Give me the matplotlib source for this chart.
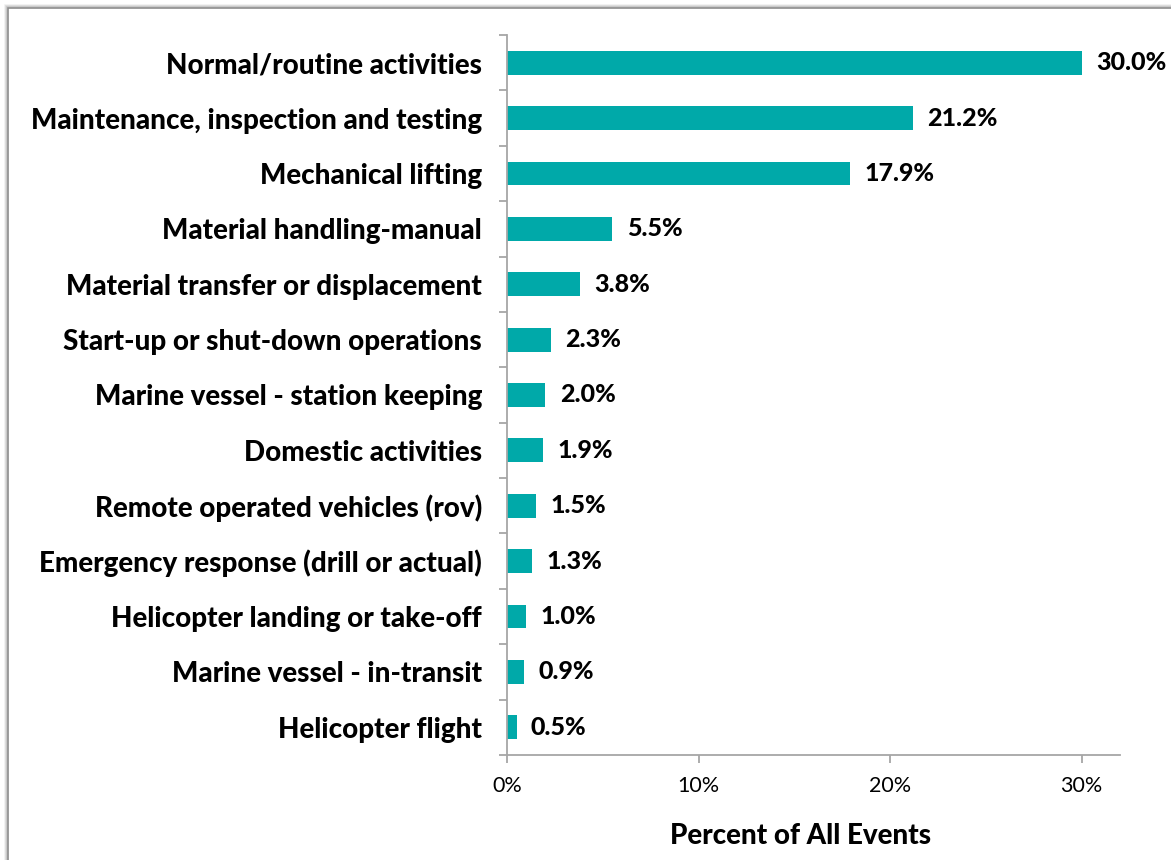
import matplotlib.pyplot as plt
from matplotlib.patches import Rectangle
from matplotlib.ticker import FixedLocator

plt.rcParams['font.family'] = ['Lato', 'DejaVu Sans']

# 数据
categories = ['Normal/routine activities', 'Maintenance, inspection and testing',
              'Mechanical lifting', 'Material handling-manual',
              'Material transfer or displacement', 'Start-up or shut-down operations',
              'Marine vessel - station keeping', 'Domestic activities',
              'Remote operated vehicles (rov)', 'Emergency response (drill or actual)',
              'Helicopter landing or take-off', 'Marine vessel - in-transit',
              'Helicopter flight']
values = [30.0, 21.2, 17.9, 5.5, 3.8, 2.3, 2.0, 1.9, 1.5, 1.3, 1.0, 0.9, 0.5]
x_ticks = [0, 10, 20, 30]

bar_color = '#00A9A9'
axis_color = '#A6A6A6'

W, H = 1171, 860
fig = plt.figure(figsize=(W / 100, H / 100), dpi=100)
ax = fig.add_axes([507 / W, 1 - 755 / H, (1120 - 507) / W, (755 - 35) / H])

pos = list(range(len(categories)))
ax.barh(pos, values, height=0.43, color=bar_color)
for p, v in zip(pos, values):
    ax.text(v + 0.75, p, f'{v:.1f}%', va='center', ha='left',
            fontsize=18, fontweight='black')

ax.set_ylim(len(categories) - 0.5, -0.5)
ax.set_xlim(0, 32)

ax.set_yticks(pos)
ax.set_yticklabels(categories, fontsize=20, fontweight='black')
ax.tick_params(axis='y', which='major', length=0, pad=18)
ax.yaxis.set_minor_locator(FixedLocator([i - 0.5 for i in range(len(categories) + 1)]))
ax.tick_params(axis='y', which='minor', length=6, color=axis_color, width=1.3)

ax.set_xticks(x_ticks)
ax.set_xticklabels([f'{t}%' for t in x_ticks], fontsize=15.5)
ax.tick_params(axis='x', length=6, color=axis_color, width=1.3, pad=9)
ax.set_xlabel('Percent of All Events', fontsize=20, fontweight='black', labelpad=16)
ax.xaxis.set_label_coords(0.479, -0.095)

for s in ['top', 'right']:
    ax.spines[s].set_visible(False)
for s in ['left', 'bottom']:
    ax.spines[s].set_color(axis_color)
    ax.spines[s].set_linewidth(1.3)

# 外框和阴影
for i, a in enumerate([0.06, 0.10, 0.16]):
    fig.patches.append(Rectangle((8 / W - (3 - i) / W, -0.1), 2, 1 - 8 / H + 0.1 + (3 - i) / H,
                                 transform=fig.transFigure, fill=False,
                                 ec=(0, 0, 0, a), lw=1.2, zorder=0))
fig.patches.append(Rectangle((8 / W, -0.1), 2, 1 - 8 / H + 0.1,
                             transform=fig.transFigure, fill=False,
                             ec='#8C8C8C', lw=1.2, zorder=1))

fig.savefig('out.png', dpi=100)
